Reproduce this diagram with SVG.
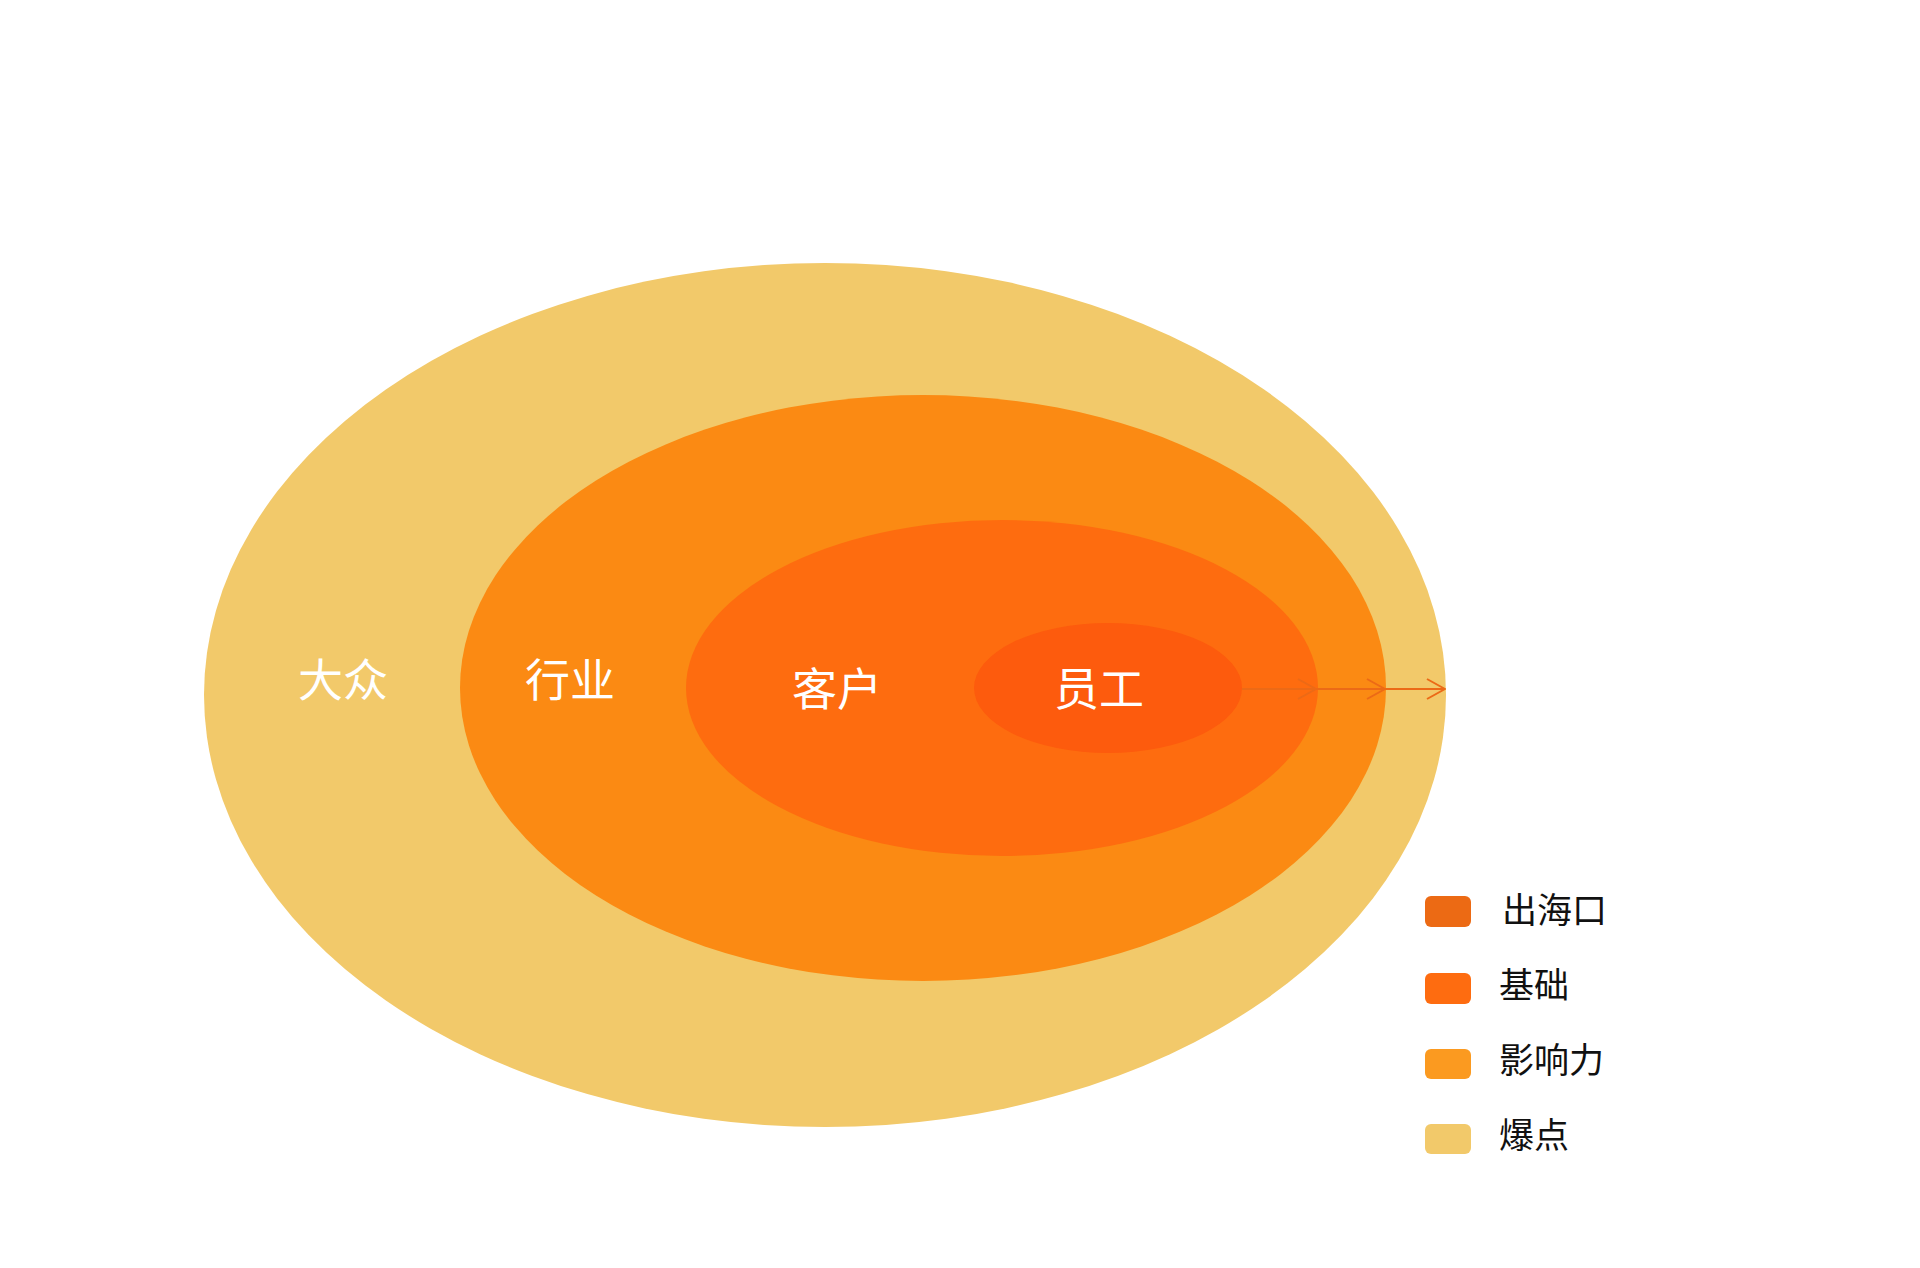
<svg xmlns="http://www.w3.org/2000/svg" width="1920" height="1268" viewBox="0 0 1920 1268">
<defs>
<style>
.lbl{font-family:"Noto Sans CJK SC","Liberation Serif",serif;font-size:45px;fill:#ffffff;text-anchor:middle;dominant-baseline:central}
.leg{font-family:"Noto Sans CJK SC","Liberation Serif",serif;font-size:35px;fill:#111111;dominant-baseline:central}
.arr{stroke:#EC6A16;stroke-width:2;fill:none}
</style>
<marker id="ah" viewBox="0 0 20 22" refX="19" refY="11" markerWidth="20" markerHeight="22" markerUnits="userSpaceOnUse" orient="auto">
<path d="M1,1 L19,11 L1,21" fill="none" stroke="#EC6A16" stroke-width="2"/>
</marker>
</defs>
<rect width="1920" height="1268" fill="#ffffff"/>
<g id="n-baodian"><ellipse cx="825" cy="695" rx="621" ry="432" fill="#F2C96A"/><text class="lbl" x="343" y="677">大众</text></g>
<g id="n-yingxiangli"><ellipse cx="923" cy="688" rx="463" ry="293" fill="#FB8A13"/><text class="lbl" x="570" y="677">行业</text></g>
<g id="n-jichu"><ellipse cx="1002" cy="688" rx="316" ry="168" fill="#FE6C0F"/><text class="lbl" x="837" y="686">客户</text></g>
<g id="n-chuhaikou"><ellipse cx="1108" cy="688" rx="134" ry="65" fill="#FD5B0D"/><text class="lbl" x="1099" y="686">员工</text></g>
<g id="connectors">
<line class="arr" x1="1242" y1="689" x2="1316" y2="689" marker-end="url(#ah)"/>
<line class="arr" x1="1316" y1="689" x2="1385" y2="689" marker-end="url(#ah)"/>
<line class="arr" x1="1385" y1="689" x2="1445" y2="689" marker-end="url(#ah)"/>
</g>
<g id="legend">
<g id="leg-chuhaikou"><rect x="1425" y="896" width="46" height="31" rx="6" fill="#EC6A14"/><text class="leg" x="1502" y="907">出海口</text></g>
<g id="leg-jichu"><rect x="1425" y="973" width="46" height="31" rx="6" fill="#FE6C10"/><text class="leg" x="1499" y="982">基础</text></g>
<g id="leg-yingxiangli"><rect x="1425" y="1049" width="46" height="30" rx="6" fill="#FB9A20"/><text class="leg" x="1499" y="1057">影响力</text></g>
<g id="leg-baodian"><rect x="1425" y="1124" width="46" height="30" rx="6" fill="#F2C96A"/><text class="leg" x="1499" y="1132">爆点</text></g>
</g>
</svg>
